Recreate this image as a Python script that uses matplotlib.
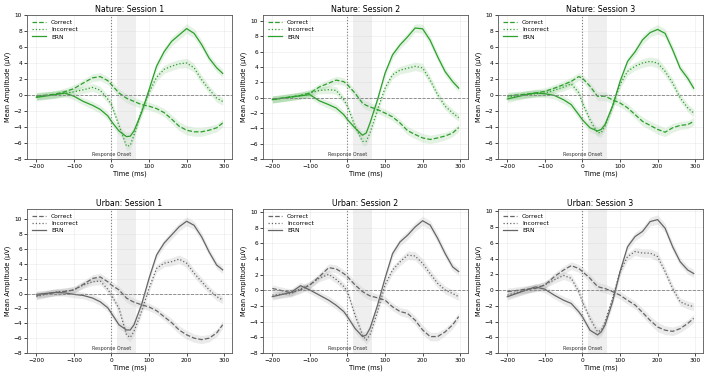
import numpy as np
import matplotlib
matplotlib.use('Agg')
import matplotlib.pyplot as plt

# time points (ms)
time = [-200, -150, -125, -100, -75, -50, -30, -10, 0, 20, 40, 50, 60,
        80, 100, 120, 140, 160, 180, 200, 220, 240, 260, 280, 296]

# approximate SEM used for the shaded bands
sem = [0.45, 0.45, 0.45, 0.45, 0.45, 0.5, 0.5, 0.5, 0.5, 0.5, 0.55, 0.55, 0.55,
       0.5, 0.5, 0.5, 0.5, 0.55, 0.55, 0.6, 0.55, 0.55, 0.5, 0.5, 0.5]

nature_s1_correct = [-0.15, 0.1, 0.4, 0.8, 1.5, 2.15, 2.3, 1.8, 1.3, 0.25, -0.4, -0.6, -0.8,
                     -1.2, -1.4, -1.7, -2.2, -3.0, -3.9, -4.4, -4.6, -4.6, -4.4, -4.1, -3.5]
nature_s1_incorrect = [-0.15, 0.05, 0.2, 0.4, 0.65, 0.95, 0.6, -0.5, -1.2, -3.8, -6.4, -6.3, -5.0,
                       -2.0, 0.3, 2.2, 3.2, 3.6, 3.9, 4.0, 3.4, 1.9, 0.7, -0.4, -0.8]
nature_s1_ern = [-0.3, 0.05, 0.25, -0.15, -0.8, -1.3, -1.8, -2.6, -3.3, -4.5, -5.2, -5.15, -4.5,
                 -2.2, 0.65, 3.6, 5.4, 6.7, 7.5, 8.3, 7.7, 6.3, 4.6, 3.4, 2.7]

nature_s2_correct = [-0.2, 0.1, 0.3, 0.6, 1.4, 1.9, 2.3, 2.1, 1.7, 0.6, -0.7, -1.0, -1.2,
                     -1.55, -2.0, -2.5, -3.3, -4.3, -4.8, -5.25, -5.45, -5.25, -5.0, -4.6, -3.9]
nature_s2_incorrect = [-0.25, 0.1, 0.3, 0.6, 0.95, 1.05, 0.95, -0.25, -1.1, -3.7, -5.7, -5.7, -4.6,
                       -1.55, 1.25, 3.0, 3.6, 3.85, 4.1, 3.9, 2.3, 0.4, -1.1, -2.0, -2.6]
nature_s2_ern = [-0.25, 0.1, 0.25, 0.4, -0.4, -0.9, -1.35, -2.2, -2.85, -3.95, -4.9, -4.6, -3.3,
                 -0.25, 3.2, 5.6, 6.9, 7.95, 9.1, 9.0, 7.5, 5.35, 3.4, 2.1, 1.25]

nature_s3_correct = [-0.1, 0.1, 0.25, 0.45, 0.85, 1.3, 1.7, 2.3, 2.1, 1.1, -0.15, -0.15, -0.15,
                     -0.6, -1.0, -1.6, -2.45, -3.3, -3.8, -4.3, -4.65, -4.1, -3.8, -3.7, -3.3]
nature_s3_incorrect = [-0.25, 0.05, 0.15, 0.25, 0.6, 1.0, 1.4, 0.3, -1.0, -3.1, -4.7, -4.7, -3.9,
                       -1.4, 1.3, 2.95, 3.6, 4.0, 4.2, 4.0, 2.95, 1.5, -0.35, -1.6, -2.25]
nature_s3_ern = [-0.5, 0.05, 0.25, 0.15, -0.05, -0.6, -1.2, -2.45, -3.1, -4.1, -4.5, -4.3, -3.7,
                 -1.4, 1.7, 4.2, 5.4, 6.9, 7.8, 8.2, 7.7, 5.65, 3.35, 2.1, 0.85]

urban_s1_correct = [-0.25, 0.15, 0.3, 0.5, 1.25, 2.05, 2.25, 1.6, 1.15, 0.5, -0.6, -0.9, -1.15,
                    -1.5, -1.8, -2.3, -3.1, -3.9, -4.9, -5.55, -6.0, -6.2, -6.0, -5.3, -4.2]
urban_s1_incorrect = [-0.4, 0.2, 0.3, 0.5, 1.15, 1.6, 1.7, 0.6, -0.2, -2.0, -5.55, -5.9, -5.1,
                      -2.4, 0.7, 3.4, 4.1, 4.3, 4.65, 4.1, 2.75, 1.6, 0.5, -0.4, -0.85]
urban_s1_ern = [-0.1, 0.15, 0.1, -0.1, -0.25, -0.6, -1.1, -1.9, -2.65, -4.2, -4.9, -4.9, -4.2,
                -1.5, 2.05, 5.2, 6.8, 7.9, 9.0, 9.75, 9.2, 7.65, 5.6, 3.85, 3.2]

urban_s2_correct = [0.25, -0.3, 0.05, 0.7, 1.75, 2.9, 2.75, 2.15, 1.75, 0.7, -0.15, -0.45, -0.7,
                    -0.95, -1.25, -2.1, -2.7, -2.95, -3.8, -5.05, -5.9, -5.9, -5.3, -4.4, -3.35]
urban_s2_incorrect = [-0.6, -0.4, 0.2, 0.7, 1.55, 2.05, 1.4, 0.5, -0.15, -3.15, -5.7, -6.35, -5.7,
                      -2.7, 0.7, 2.6, 3.65, 4.5, 4.4, 3.45, 2.15, 0.9, 0.05, -0.4, -0.8]
urban_s2_ern = [-0.8, -0.25, 0.6, 0.05, -0.6, -1.25, -1.9, -2.7, -3.35, -4.85, -5.9, -5.7, -4.85,
                -1.9, 1.55, 4.7, 6.2, 7.05, 8.1, 8.9, 8.35, 6.65, 4.7, 3.0, 2.4]

urban_s3_correct = [-0.2, 0.1, 0.2, 0.65, 1.7, 2.55, 3.1, 2.75, 2.35, 1.5, 0.45, 0.3, 0.2,
                    -0.2, -0.65, -1.3, -1.9, -2.85, -3.85, -4.7, -5.1, -5.25, -4.9, -4.25, -3.6]
urban_s3_incorrect = [-0.65, 0.0, 0.3, 0.65, 1.3, 1.85, 1.5, -0.2, -1.5, -3.6, -5.3, -5.1, -4.05,
                      -1.05, 2.35, 4.25, 4.9, 4.7, 4.7, 4.25, 2.35, 0.2, -1.5, -1.9, -2.1]
urban_s3_ern = [-0.85, 0.0, 0.4, 0.1, -0.65, -1.3, -1.7, -2.75, -3.4, -5.1, -5.7, -5.3, -4.45,
                -1.5, 2.35, 5.5, 6.8, 7.45, 8.7, 8.95, 7.85, 5.5, 3.6, 2.55, 2.1]

titles = ['Nature: Session 1', 'Nature: Session 2', 'Nature: Session 3',
          'Urban: Session 1', 'Urban: Session 2', 'Urban: Session 3']
panels = [
    (nature_s1_correct, nature_s1_incorrect, nature_s1_ern),
    (nature_s2_correct, nature_s2_incorrect, nature_s2_ern),
    (nature_s3_correct, nature_s3_incorrect, nature_s3_ern),
    (urban_s1_correct, urban_s1_incorrect, urban_s1_ern),
    (urban_s2_correct, urban_s2_incorrect, urban_s2_ern),
    (urban_s3_correct, urban_s3_incorrect, urban_s3_ern),
]
y_tops = [10, 10.8, 10, 11.4, 10.4, 10.3]

fig = plt.figure(figsize=(7.08, 3.76), dpi=100)
lefts = [27 / 708, 263 / 708, 498 / 708]
bottoms = [1 - 159 / 376, 1 - 353 / 376]
w, h = 205 / 708, 144 / 376

t = np.array(time)
s = np.array(sem)
for i, (title, series) in enumerate(zip(titles, panels)):
    ax = fig.add_axes([lefts[i % 3], bottoms[i // 3], w, h])
    color = '#2ca02c' if i < 3 else '#666666'
    for vals, ls, lab in zip(series, ['--', ':', '-'], ['Correct', 'Incorrect', 'ERN']):
        v = np.array(vals)
        ax.fill_between(t, v - s, v + s, color=color, alpha=0.13, lw=0)
        ax.plot(t, v, ls=ls, color=color, lw=0.9, label=lab)
    ax.axvspan(15, 65, color='lightgray', alpha=0.35, lw=0)
    ax.axvline(0, color='gray', ls=':', lw=0.8)
    ax.axhline(0, color='gray', ls='--', lw=0.6)
    ax.text(0, -7.75, 'Response Onset', fontsize=3.5, ha='center', va='bottom', color='#333333')
    ax.set_ylim(-8, y_tops[i])
    ax.set_yticks(np.arange(-8, y_tops[i] + 0.01, 2))
    ax.set_xticks([-200, -100, 0, 100, 200, 300])
    ax.grid(True, alpha=0.25, lw=0.4)
    ax.tick_params(labelsize=4.2, length=2, width=0.5, pad=1.5)
    for sp in ax.spines.values():
        sp.set_linewidth(0.6)
        sp.set_color('#555555')
    ax.set_title(title, fontsize=5.7, pad=2.5)
    ax.set_xlabel('Time (ms)', fontsize=4.8, labelpad=1)
    ax.set_ylabel('Mean Amplitude (μV)', fontsize=4.8, labelpad=1.5)
    ax.legend(loc='upper left', fontsize=4.3, frameon=False, handlelength=2.4,
              borderaxespad=0.4, labelspacing=0.35)

fig.savefig('out.png', dpi=100)
